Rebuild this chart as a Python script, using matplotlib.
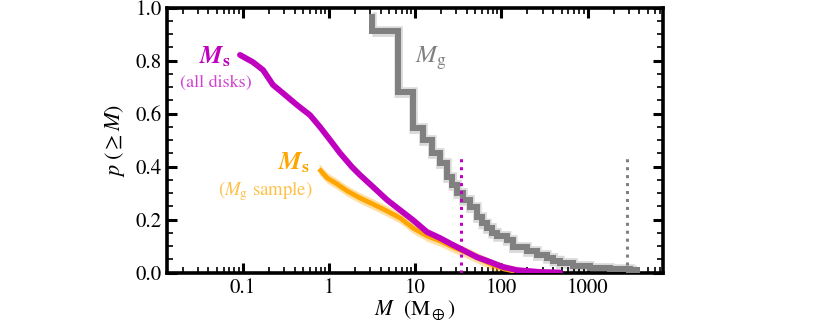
import numpy as np
import matplotlib
matplotlib.use("Agg")
import matplotlib.pyplot as plt
from matplotlib.ticker import LogLocator, FixedLocator, MultipleLocator, FuncFormatter

plt.rcParams['font.family'] = ['STIXGeneral', 'DejaVu Serif']
plt.rcParams['mathtext.fontset'] = 'stix'

# --- data ---
ms_all_mass = [0.0928, 0.131, 0.172, 0.224, 0.292, 0.426, 0.602, 0.787, 1.03, 1.34, 1.85, 2.29,
               3.24, 4.71, 6.66, 9.43, 13.7, 19.4, 27.4, 35.8, 52.1, 73.6, 104, 151, 280, 480]
ms_all_p = [0.821, 0.794, 0.764, 0.708, 0.677, 0.632, 0.594, 0.549, 0.500, 0.451, 0.398, 0.368,
            0.323, 0.274, 0.236, 0.198, 0.153, 0.130, 0.104, 0.085, 0.058, 0.040, 0.021, 0.009, 0.002, 0.0]

ms_g_mass = [0.766, 0.95, 1.24, 1.62, 2.29, 3.24, 4.71, 6.66, 9.43, 13.7, 19.4, 27.4, 39.8,
             56.3, 80, 110, 144]
ms_g_p = [0.391, 0.357, 0.334, 0.308, 0.281, 0.258, 0.232, 0.206, 0.168, 0.138, 0.119, 0.096,
          0.074, 0.051, 0.028, 0.013, 0.004]

mg_mass = [3.15, 3.15, 6.33, 9.43, 12.3, 15.6, 19.3, 23.4, 27.0, 30.6, 35.9, 43.2, 52.0, 60.0,
           67.8, 78.0, 88.5, 115, 136, 198, 258, 337, 400, 478, 679, 1060, 1800, 3100, 3700]
mg_p = [0.964, 0.911, 0.681, 0.545, 0.500, 0.451, 0.413, 0.360, 0.330, 0.300, 0.274, 0.247,
        0.209, 0.185, 0.168, 0.150, 0.138, 0.123, 0.096, 0.081, 0.066, 0.055, 0.045, 0.036,
        0.025, 0.017, 0.013, 0.008, 0.008]

vline_ms = 34.0
vline_mg = 2900.0
vline_top = 0.44

xticks = [0.1, 1, 10, 100, 1000]
xticklabels = ['0.1', '1', '10', '100', '1000']

MAG = '#bf00bf'
ORA = '#ffa500'
GRY = '#808080'

fig = plt.figure(figsize=(8.3, 3.28), dpi=100)
ax = fig.add_axes([0.2012, 0.1692, 0.5976, 0.8079])

# grey Mg step curve with band
mgm = np.array(mg_mass)
mgp = np.array(mg_p)
def step_eval(x):
    idx = np.searchsorted(mgm, x, side='right') - 1
    idx = np.clip(idx, 0, len(mgp) - 1)
    return mgp[idx]
grid = np.logspace(np.log10(mgm[0]), np.log10(mgm[-1]), 3000)
upper = step_eval(grid / 1.12) + 0.02
lower = step_eval(grid * 1.12) - 0.02
ax.fill_between(grid, lower, upper, color='#d9d9d9', lw=0, zorder=1)
ax.step(mg_mass, mg_p, where='post', color=GRY, lw=4.3, zorder=3, solid_joinstyle='miter')

# orange Ms (Mg sample)
ax.fill_between(ms_g_mass, np.array(ms_g_p) - 0.02, np.array(ms_g_p) + 0.02,
                color=ORA, alpha=0.35, lw=0, zorder=2)
ax.plot(ms_g_mass, ms_g_p, color=ORA, lw=3.4, zorder=4, solid_capstyle='butt')

# magenta Ms all disks
ax.fill_between(ms_all_mass, np.array(ms_all_p) - 0.012, np.array(ms_all_p) + 0.012,
                color=MAG, alpha=0.3, lw=0, zorder=2)
ax.plot(ms_all_mass, ms_all_p, color=MAG, lw=4.2, zorder=5, solid_capstyle='round')

# dotted vertical lines
ax.plot([vline_ms, vline_ms], [0, vline_top], color=MAG, lw=2.2, ls=(0, (1, 1.6)), zorder=6)
ax.plot([vline_mg, vline_mg], [0, vline_top], color=GRY, lw=2.2, ls=(0, (1, 1.6)), zorder=6)

# labels
ax.text(0.0476, 0.813, r'$\mathbfit{M}_\mathbf{s}$', color=MAG, fontsize=18, ha='center', va='center')
ax.text(0.049, 0.715, '(all disks)', color='#d040d0', fontsize=13, ha='center', va='center')
ax.text(0.60, 0.41, r'$\mathbfit{M}_\mathbf{s}$', color=ORA, fontsize=18, ha='right', va='center')
ax.text(0.64, 0.308, r'($M_\mathrm{g}$ sample)', color='#ffc04a', fontsize=13.5, ha='right', va='center')
ax.text(15.2, 0.806, r'$M_\mathrm{g}$', color=GRY, fontsize=18, ha='center', va='center')

ax.set_xscale('log')
ax.set_xlim(0.0132, 7500)
ax.set_ylim(0, 1.0)
ax.xaxis.set_major_locator(FixedLocator(xticks))
ax.set_xticklabels(xticklabels)
ax.xaxis.set_minor_locator(LogLocator(base=10, subs=np.arange(2, 10)))
ax.xaxis.set_minor_formatter(FuncFormatter(lambda v, p: ''))
ax.yaxis.set_major_locator(MultipleLocator(0.2))
ax.yaxis.set_minor_locator(MultipleLocator(0.05))
ax.yaxis.set_major_formatter(FuncFormatter(lambda v, p: f'{v:.1f}'))

ax.tick_params(which='both', direction='in', top=True, right=True, labelsize=15, pad=4)
ax.tick_params(which='major', length=7, width=2.2)
ax.tick_params(which='minor', length=4, width=1.2)
for s in ax.spines.values():
    s.set_linewidth(2.6)

ax.set_ylabel(r'$p\;(\geq M)$', fontsize=16, labelpad=6)
ax.set_xlabel(r'$M$  (M$_\oplus$)', fontsize=15.5, labelpad=1)

fig.savefig('out.png', dpi=100)
